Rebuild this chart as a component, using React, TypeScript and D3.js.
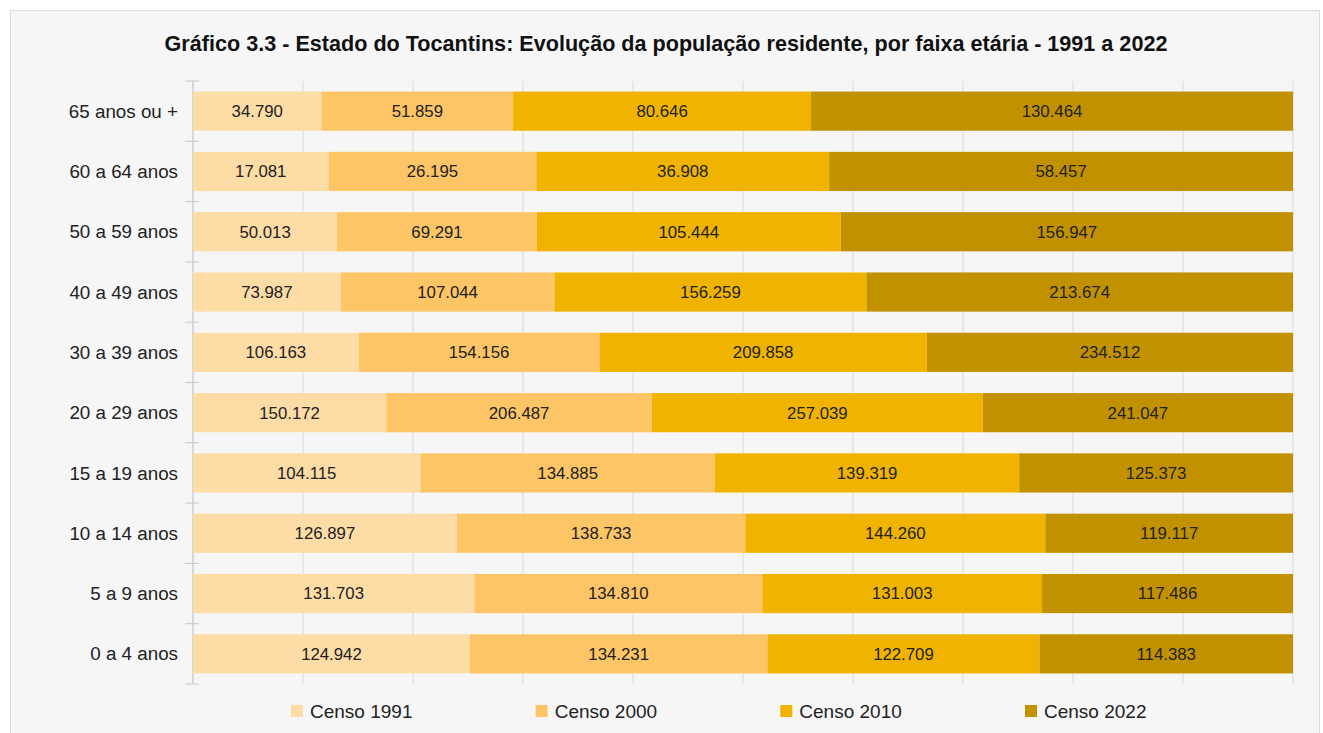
import React, { useEffect } from "react";
import * as d3 from "d3";

const width = 1323;
const height = 733;
const margin = { top: 81, right: 30, bottom: 49, left: 193 };
const font = "'Liberation Sans', Arial, sans-serif";

const title =
  "Gráfico 3.3 - Estado do Tocantins: Evolução da população residente, por faixa etária - 1991 a 2022";

// age groups, top to bottom
const categories = [
  "65 anos ou +",
  "60 a 64 anos",
  "50 a 59 anos",
  "40 a 49 anos",
  "30 a 39 anos",
  "20 a 29 anos",
  "15 a 19 anos",
  "10 a 14 anos",
  "5 a 9 anos",
  "0 a 4 anos",
];

const seriesNames = ["Censo 1991", "Censo 2000", "Censo 2010", "Censo 2022"];
const colors = ["#fddca6", "#fdc566", "#f0b400", "#c29100"];

const censo1991 = [34790, 17081, 50013, 73987, 106163, 150172, 104115, 126897, 131703, 124942];
const censo2000 = [51859, 26195, 69291, 107044, 154156, 206487, 134885, 138733, 134810, 134231];
const censo2010 = [80646, 36908, 105444, 156259, 209858, 257039, 139319, 144260, 131003, 122709];
const censo2022 = [130464, 58457, 156947, 213674, 234512, 241047, 125373, 119117, 117486, 114383];

const seriesValues = [censo1991, censo2000, censo2010, censo2022];
const gridTicks = d3.range(0, 1.0001, 0.1);

const fmt = d3.formatLocale({
  decimal: ",",
  thousands: ".",
  grouping: [3],
  currency: ["R$", ""],
}).format(",d");

type Row = { cat: string; [k: string]: number | string };

const rows: Row[] = categories.map((cat, i) => {
  const r: Row = { cat };
  seriesNames.forEach((s, j) => (r[s] = seriesValues[j][i]));
  return r;
});

export default function App() {
  useEffect(() => {
    document.body.style.margin = "0";
  }, []);

  const x = d3.scaleLinear().domain([0, 1]).range([margin.left, 1293]);
  const y = d3
    .scaleBand()
    .domain(categories)
    .range([margin.top, height - margin.bottom])
    .paddingInner(0.35)
    .paddingOuter(0.175);

  const stacked = d3
    .stack<Row>()
    .keys(seriesNames)
    .value((d, k) => d[k] as number)
    .offset(d3.stackOffsetExpand)(rows);

  const y0 = margin.top;
  const y1 = height - margin.bottom;
  const step = y.step();
  const boundaries = d3.range(categories.length + 1).map((i) => y0 + i * step);

  const legendX = d3.scaleLinear().domain([0, 3]).range([291, 1025]);

  return (
    <svg width={width} height={height} style={{ display: "block", background: "#fff" }}>
      <rect x={10.5} y={10.5} width={1309} height={740} fill="#f6f6f6" stroke="#dcdcdc" />
      <text
        x={666}
        y={51}
        textAnchor="middle"
        fontFamily={font}
        fontWeight="bold"
        fontSize={21.6}
        fill="#111"
      >
        {title}
      </text>

      {/* vertical grid */}
      <g>
        {gridTicks.map((t, i) => (
          <line
            key={i}
            x1={x(t)}
            x2={x(t)}
            y1={y0}
            y2={y1}
            stroke={i === 0 ? "#b8b8b8" : "#dadada"}
            strokeWidth={1}
          />
        ))}
        {boundaries.map((b, i) => (
          <line key={i} x1={185} x2={199} y1={b} y2={b} stroke="#c8c8c8" />
        ))}
      </g>

      {/* bars */}
      {stacked.map((layer, j) => (
        <g key={layer.key} fill={colors[j]}>
          {layer.map((d, i) => (
            <rect
              key={i}
              x={x(d[0])}
              y={y(d.data.cat)}
              width={x(d[1]) - x(d[0])}
              height={y.bandwidth()}
            />
          ))}
        </g>
      ))}

      {/* value labels */}
      {stacked.map((layer, j) => (
        <g key={layer.key} fontFamily={font} fontSize={16.8} fill="#222" textAnchor="middle">
          {layer.map((d, i) => (
            <text
              key={i}
              x={(x(d[0]) + x(d[1])) / 2}
              y={(y(d.data.cat) as number) + y.bandwidth() / 2}
              dy="0.35em"
            >
              {fmt(seriesValues[j][i])}
            </text>
          ))}
        </g>
      ))}

      {/* category labels */}
      <g fontFamily={font} fontSize={18.8} fill="#222" textAnchor="end">
        {categories.map((c) => (
          <text key={c} x={178} y={(y(c) as number) + y.bandwidth() / 2} dy="0.35em">
            {c}
          </text>
        ))}
      </g>

      {/* legend */}
      <g fontFamily={font} fontSize={19} fill="#222">
        {seriesNames.map((s, j) => (
          <g key={s} transform={`translate(${legendX(j)},705)`}>
            <rect width={12} height={12} fill={colors[j]} />
            <text x={19} y={12.8}>
              {s}
            </text>
          </g>
        ))}
      </g>
    </svg>
  );
}
